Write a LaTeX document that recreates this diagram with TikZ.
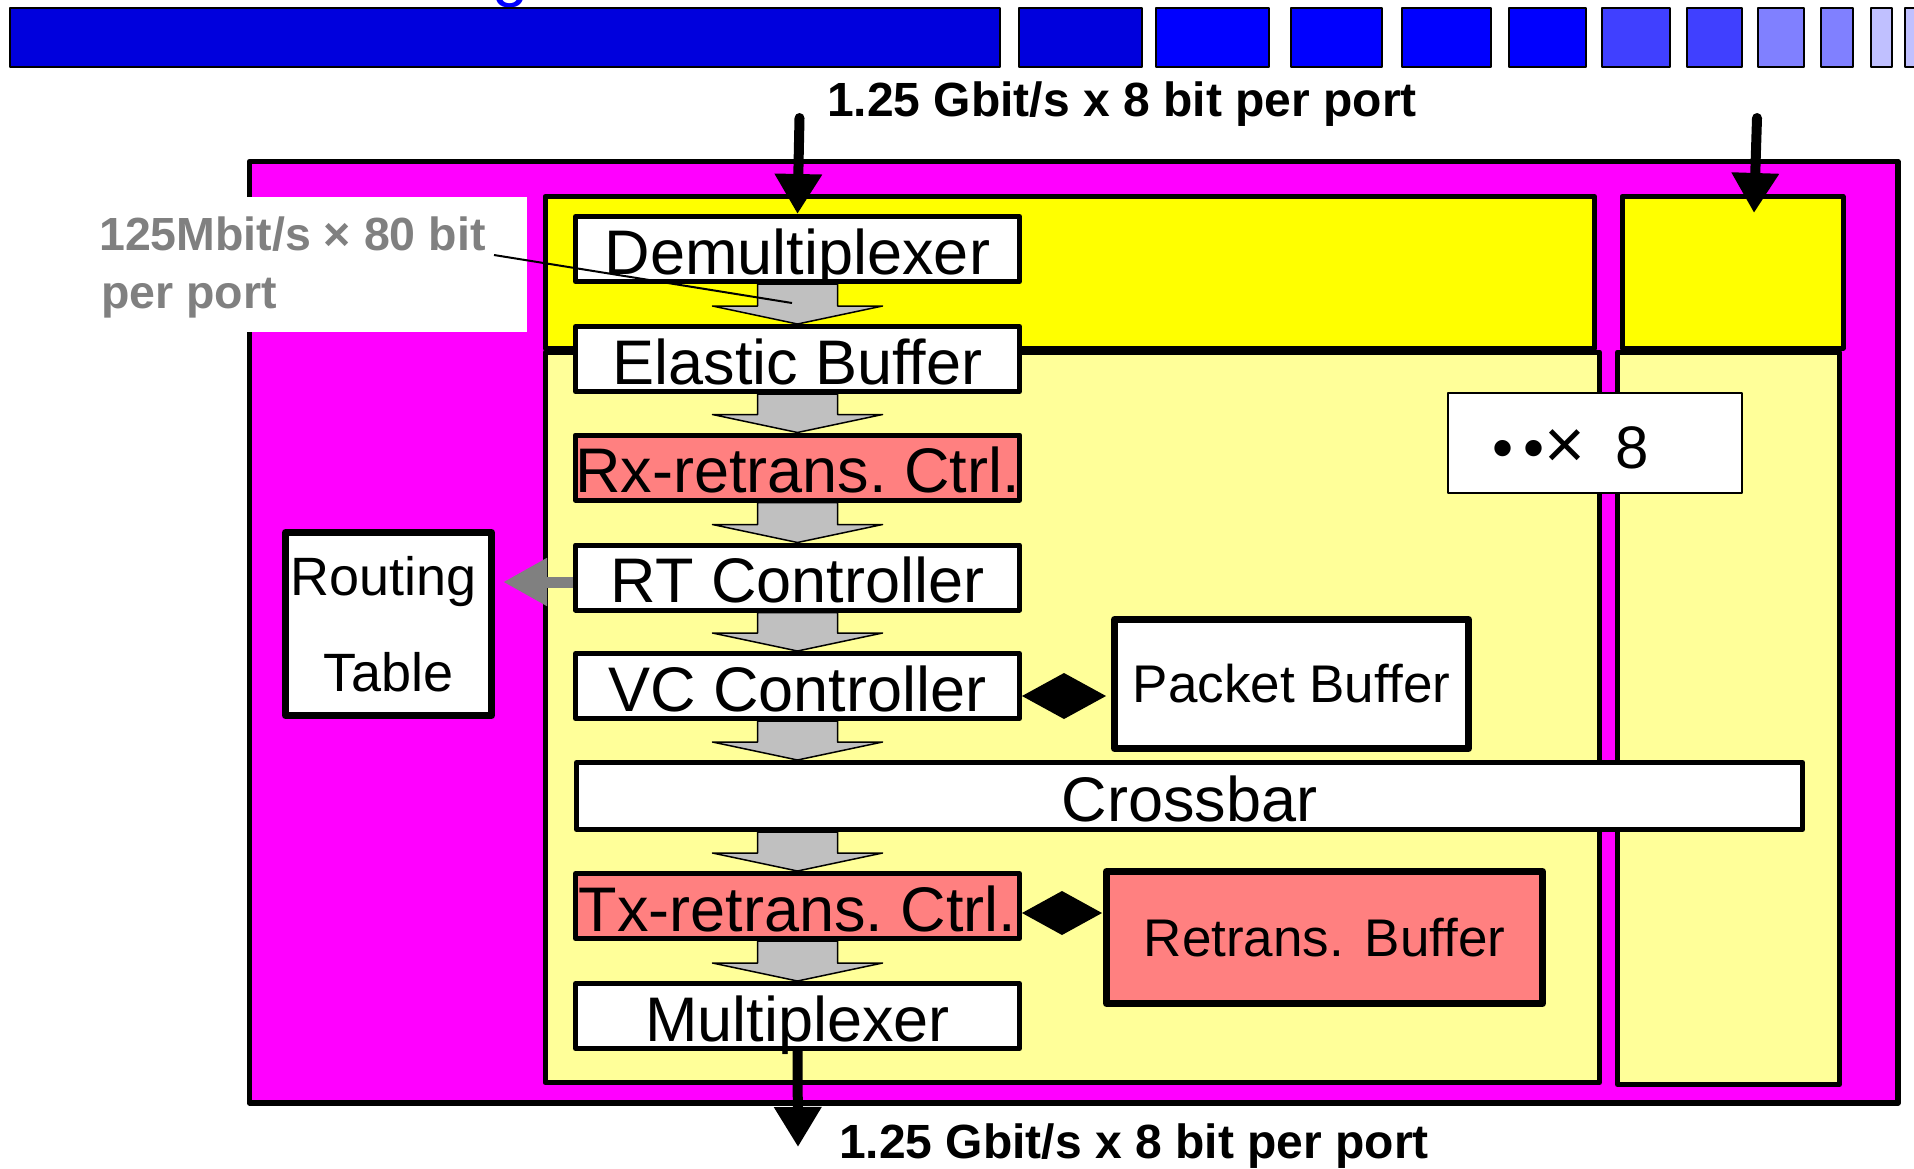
\documentclass[tikz,border=0pt]{standalone}
\usepackage{fontspec}
\setmainfont{Liberation Sans}
\usetikzlibrary{arrows.meta,calc}
\definecolor{mag}{RGB}{255,0,255}
\definecolor{ybright}{RGB}{255,255,0}
\definecolor{ylight}{RGB}{255,255,153}
\definecolor{salmon}{RGB}{255,128,128}
\definecolor{garrfill}{RGB}{192,192,192}
\definecolor{midgray}{RGB}{128,128,128}
\definecolor{blueA}{RGB}{0,0,221}
\definecolor{blueB}{RGB}{0,0,255}
\definecolor{blueC}{RGB}{64,64,255}
\definecolor{blueD}{RGB}{128,128,255}
\definecolor{blueE}{RGB}{192,192,255}
\newcommand\fsz[1]{\fontsize{#1}{#1}\selectfont}
\newcommand\garrow[2]{\draw[garr] ($(#1)+(-40,0)$) -- ($(#2)+(-40,-18)$) -- ($(#2)+(-85,-18)$) -- (#2) -- ($(#2)+(85,-18)$) -- ($(#2)+(40,-18)$) -- ($(#1)+(40,0)$) -- cycle;}
\begin{document}
\frenchspacing
\begin{tikzpicture}[x=1pt,y=-1pt,line join=round,
  bar/.style={draw=black,line width=1.5pt},
  frame/.style={draw=black,line width=5pt},
  colbox/.style={draw=black,fill=white,line width=5pt,minimum width=444pt,minimum height=65pt,inner sep=0pt,text height=50pt,text depth=0pt,font=\fsz{63}},
  redbox/.style={colbox,fill=salmon},
  bigbox/.style={draw=black,line width=7pt,inner sep=0pt,font=\fsz{53}},
  garr/.style={draw=black,line width=1.5pt,fill=garrfill},
  bigarr/.style={draw=black,line width=10pt,line cap=round,-{Triangle[length=40pt,width=45pt]}},
  ratelbl/.style={font=\bfseries\fsz{48},anchor=base,inner sep=0pt},
  graylbl/.style={font=\bfseries\fsz{46.5},text=midgray,anchor=base west,inner sep=0pt}
]
\useasboundingbox (0,0) rectangle (1914,1168);
\fill[white] (0,0) rectangle (1914,1168);

% title fragment cut off at the top
\begin{scope}
  \clip (0,0) rectangle (1914,8);
  \node[text=blueB,font=\fsz{65},anchor=base,inner sep=0pt] (ttl) at (511,-6) {g};
\end{scope}

% top bars
\draw[bar,fill=blueA] (10,8) rectangle (1000,67);
\draw[bar,fill=blueA] (1019,8) rectangle (1142,67);
\draw[bar,fill=blueB] (1156,8) rectangle (1269,67);
\draw[bar,fill=blueB] (1291,8) rectangle (1382,67);
\draw[bar,fill=blueB] (1402,8) rectangle (1491,67);
\draw[bar,fill=blueB] (1509,8) rectangle (1586,67);
\draw[bar,fill=blueC] (1602,8) rectangle (1670,67);
\draw[bar,fill=blueC] (1687,8) rectangle (1742,67);
\draw[bar,fill=blueD] (1758,8) rectangle (1804,67);
\draw[bar,fill=blueD] (1821,8) rectangle (1853,67);
\draw[bar,fill=blueE] (1871,8) rectangle (1892,67);
\draw[bar,fill=blueE] (1905,8) rectangle (1925,67);

% rate labels
\node[ratelbl] (rin) at (1122,116) {1.25 Gbit/s x 8 bit per port};
\node[ratelbl] (rout) at (1134,1158) {1.25 Gbit/s x 8 bit per port};

% containers
\draw[frame,line width=5.5pt,fill=mag] (249.5,161.5) rectangle (1898,1103);
\draw[frame,fill=ylight] (545,352) rectangle (1599.5,1082.5);
\draw[frame,fill=ybright] (545,196.5) rectangle (1594.5,348);
\draw[frame,fill=ylight] (1617.5,352) rectangle (1839.5,1084.5);
\draw[frame,fill=ybright] (1622,196.5) rectangle (1843,348);

% side label
\fill[white] (92,197) rectangle (527,332);
\node[graylbl] (lbl1) at (99,250) {125Mbit/s × 80 bit};
\node[graylbl] (lbl2) at (101,308) {per port};

% pipeline
\node[colbox] (dm) at (797.5,249) {Demultiplexer};
\node[colbox] (eb) at (797.5,359) {Elastic Buffer};
\node[redbox] (rx) at (797.5,467.5) {Rx-retrans. Ctrl.};
\node[colbox] (rt) at (797.5,577.5) {RT Controller};
\node[colbox] (vc) at (797.5,686) {VC Controller};
\node[colbox,minimum width=1226pt,minimum height=67pt] (cb) at (1189.5,796) {Crossbar};
\node[redbox] (tx) at (797.5,906) {Tx-retrans. Ctrl.};
\node[colbox] (mx) at (797.5,1016) {Multiplexer};

\coordinate (cbtop) at (cb.north -| vc.south);
\coordinate (cbbot) at (cb.south -| vc.south);
\garrow{dm.south}{eb.north}
\garrow{eb.south}{rx.north}
\garrow{rx.south}{rt.north}
\garrow{rt.south}{vc.north}
\garrow{vc.south}{cbtop}
\garrow{cbbot}{tx.north}
\garrow{tx.south}{mx.north}

% side blocks
\node[bigbox,fill=white,minimum width=206pt,minimum height=183pt,align=center,font=\fontsize{54}{96}\selectfont] (rtab) at (388.5,624) {Routing\hspace*{10pt}\\Table};
\node[bigbox,fill=white,minimum width=354pt,minimum height=129pt] (pb) at (1291.5,684) {Packet Buffer};
\node[bigbox,fill=salmon,minimum width=436pt,minimum height=132pt] (rb) at (1324.5,937.5) {Retrans.\hspace*{6pt} Buffer};
\node[draw=black,line width=2pt,fill=white,minimum width=294pt,minimum height=100pt,inner sep=0pt] (x8) at (1595,443) {};
\node[font=\fsz{60},anchor=base west,inner sep=0pt] (x8t) at (1492,468) {•\hspace*{10pt}•{\fsz{70}×}\hspace*{30pt}8};

% connectors (double-pointed diamond links)
\coordinate (dgA) at (0,696);
\coordinate (dgB) at (0,913);
\fill (vc.east |- dgA) -- ++(42,-23) -- ++(42,23) -- ++(-42,23) -- cycle;
\fill (tx.east |- dgB) -- ++(40,-22) -- ++(40,22) -- ++(-40,22) -- cycle;
\coordinate (rty) at (0,582);
\draw[draw=midgray,line width=11pt,-{Triangle[length=44pt,width=45pt]},shorten >=8pt] (rt.west |- rty) -- (rtab.east |- rty);

\coordinate (inA) at (799.5,118);
\coordinate (inB) at (1757,118);
\coordinate (inBend) at (1754,213);
\coordinate (outA) at (798,1147);
\draw[bigarr] (inA) -- (dm.north);
\draw[bigarr] (inB) -- (inBend);
\draw[bigarr,line cap=butt] (mx.south) -- (outA);

\coordinate (ldA) at (494,255);
\coordinate (ldB) at (792,303);
\draw[line width=2pt] (ldA) -- (ldB);
\end{tikzpicture}
\end{document}
